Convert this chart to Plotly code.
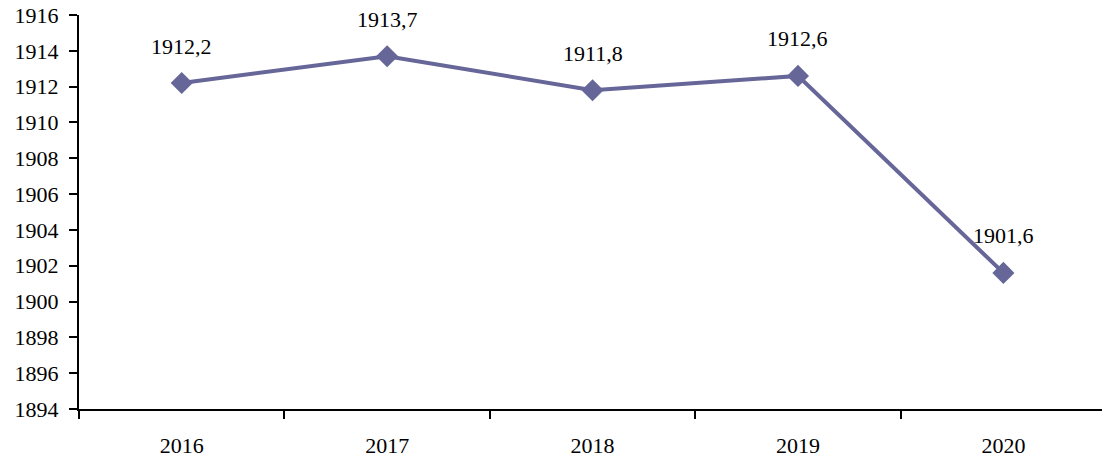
import plotly.graph_objects as go

years = ["2016", "2017", "2018", "2019", "2020"]
values = [1912.2, 1913.7, 1911.8, 1912.6, 1901.6]
labels = [f"{v:.1f}".replace(".", ",") for v in values]

LINE_COLOR = "#666699"
FONT = "Liberation Serif, Times New Roman, serif"

fig = go.Figure(go.Scatter(
    x=years,
    y=values,
    mode="lines+markers",
    line=dict(color=LINE_COLOR, width=4),
    marker=dict(symbol="diamond", size=17, color=LINE_COLOR),
    showlegend=False,
    hoverinfo="skip",
))

# category axis: annotations need the category index, not the string
for i, (v, lab) in enumerate(zip(values, labels)):
    fig.add_annotation(
        x=i, y=v, text=lab, showarrow=False,
        yshift=37, font=dict(family=FONT, size=22, color="black"),
    )

fig.update_layout(
    width=1102,
    height=466,
    margin=dict(l=79, r=0, t=15, b=57),
    paper_bgcolor="white",
    plot_bgcolor="white",
    font=dict(family=FONT, size=22, color="black"),
)
fig.update_xaxes(
    type="category",
    range=[-0.5, 4.48],
    showgrid=False,
    showline=True,
    linecolor="black",
    linewidth=2,
    ticks="outside",
    tickson="boundaries",
    ticklen=8,
    tickwidth=2,
    tickcolor="black",
    ticklabelstandoff=16,
)
fig.update_yaxes(
    range=[1894, 1916],
    dtick=2,
    showgrid=False,
    zeroline=False,
    showline=True,
    linecolor="black",
    linewidth=2,
    ticks="outside",
    ticklen=8,
    tickwidth=2,
    tickcolor="black",
    ticklabelstandoff=6,
    tickformat="d",
)

fig.write_html(
    "out.html",
    config={"displayModeBar": False},
    post_script="document.body.style.margin='0';",
)
